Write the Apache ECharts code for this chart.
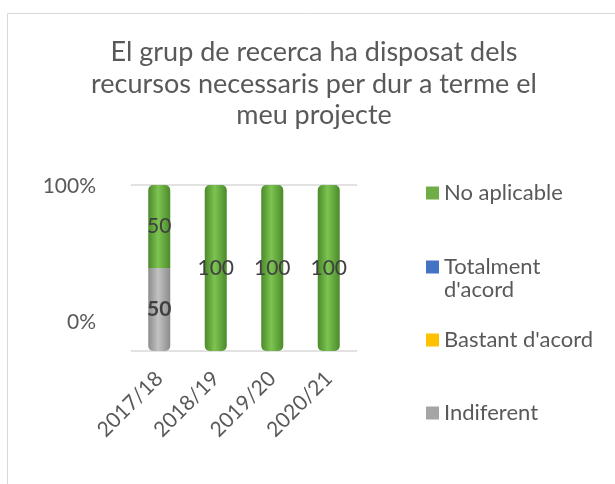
<!DOCTYPE html>
<html>
<head>
<meta charset="utf-8">
<script src="https://cdn.jsdelivr.net/npm/echarts@6/dist/echarts.min.js"></script>
<style>
html, body { margin: 0; padding: 0; background: #fff; }
#chart { width: 615px; height: 484px; }
</style>
</head>
<body>
<div id="chart"></div>
<script>
let categories = ['2017/18', '2018/19', '2019/20', '2020/21'];
let indiferent = [50, 0, 0, 0];
let bastantAcord = [0, 0, 0, 0];
let totalmentAcord = [0, 0, 0, 0];
let noAplicable = [50, 100, 100, 100];
let yTicks = [0, 100];

let font = 'Lato';
let textColor = '#595959';

function cylinder(dark, light) {
    return new echarts.graphic.LinearGradient(0, 0, 1, 0, [
        {offset: 0, color: dark},
        {offset: 0.45, color: light},
        {offset: 1, color: dark}
    ]);
}

function barLabel(bold) {
    return {
        show: true,
        position: 'inside',
        fontFamily: font,
        fontSize: 21,
        fontWeight: bold ? 'bold' : 'normal',
        color: '#404040',
        formatter: function (p) { return p.value > 0 ? p.value : ''; }
    };
}

function legendAt(name, label, top, color) {
    return {
        top: top,
        left: 426,
        padding: 0,
        icon: 'rect',
        itemWidth: 13,
        itemHeight: 13,
        itemGap: 6,
        selectedMode: false,
        formatter: function () { return label; },
        textStyle: {fontFamily: font, fontSize: 22, color: textColor, lineHeight: 23},
        data: [{name: name, itemStyle: {color: color}}]
    };
}

let option = {
    backgroundColor: '#fff',
    animation: false,
    title: {
        text: 'El grup de recerca ha disposat dels\nrecursos necessaris per dur a terme el\nmeu projecte',
        left: 314,
        top: 37,
        padding: 0,
        textAlign: 'center',
        textStyle: {fontFamily: font, fontSize: 27, fontWeight: 'normal', color: textColor, lineHeight: 31.5}
    },
    graphic: [{
        type: 'rect',
        shape: {x: 7.5, y: 13.5, width: 620, height: 480},
        style: {fill: 'none', stroke: '#d9d9d9', lineWidth: 1}
    }],
    legend: [
        legendAt('No aplicable', 'No aplicable', 181.5, '#70AD47'),
        legendAt("Totalment d'acord", "\nTotalment\nd'acord", 232.5, '#4472C4'),
        legendAt("Bastant d'acord", "Bastant d'acord", 328.5, '#FFC000'),
        legendAt('Indiferent', 'Indiferent', 401.5, '#A5A5A5')
    ],
    grid: [
        {left: 131, width: 226, top: 185, height: 166},
        {left: 131, width: 226, top: 186, height: 136}
    ],
    xAxis: [{
        type: 'category',
        gridIndex: 0,
        data: categories,
        axisLine: {show: false},
        axisTick: {show: false},
        axisLabel: {rotate: 45, margin: 24, fontFamily: font, fontSize: 21, color: textColor}
    }, {
        type: 'category',
        gridIndex: 1,
        data: categories,
        show: false
    }],
    yAxis: [{
        type: 'value',
        gridIndex: 0,
        min: yTicks[0],
        max: yTicks[1],
        interval: 100,
        axisLabel: {show: false},
        axisLine: {show: false},
        axisTick: {show: false},
        splitLine: {lineStyle: {color: '#d9d9d9', width: 1.5}}
    }, {
        type: 'value',
        gridIndex: 1,
        min: yTicks[0],
        max: yTicks[1],
        interval: 100,
        axisLine: {show: false},
        axisTick: {show: false},
        splitLine: {show: false},
        axisLabel: {formatter: '{value}%', margin: 35, fontFamily: font, fontSize: 21, color: textColor}
    }],
    series: [{
        name: 'Indiferent',
        type: 'bar',
        stack: 'total',
        barWidth: 22,
        data: indiferent,
        itemStyle: {color: cylinder('#8c8c8c', '#c2c2c2'), borderRadius: [0, 0, 5, 5]},
        label: barLabel(true)
    }, {
        name: "Bastant d'acord",
        type: 'bar',
        stack: 'total',
        barWidth: 22,
        data: bastantAcord,
        itemStyle: {color: '#FFC000'},
        label: barLabel(false)
    }, {
        name: "Totalment d'acord",
        type: 'bar',
        stack: 'total',
        barWidth: 22,
        data: totalmentAcord,
        itemStyle: {color: '#4472C4'},
        label: barLabel(false)
    }, {
        name: 'No aplicable',
        type: 'bar',
        stack: 'total',
        barWidth: 22,
        data: noAplicable.map(function (v, i) {
            return {value: v, itemStyle: {borderRadius: indiferent[i] > 0 ? [5, 5, 0, 0] : 5}};
        }),
        itemStyle: {color: cylinder('#4b8a2a', '#7dc452')},
        label: barLabel(false)
    }]
};

let element = document.getElementById('chart');
let chart = echarts.init(element);
chart.setOption(option);
</script>
</body>
</html>
